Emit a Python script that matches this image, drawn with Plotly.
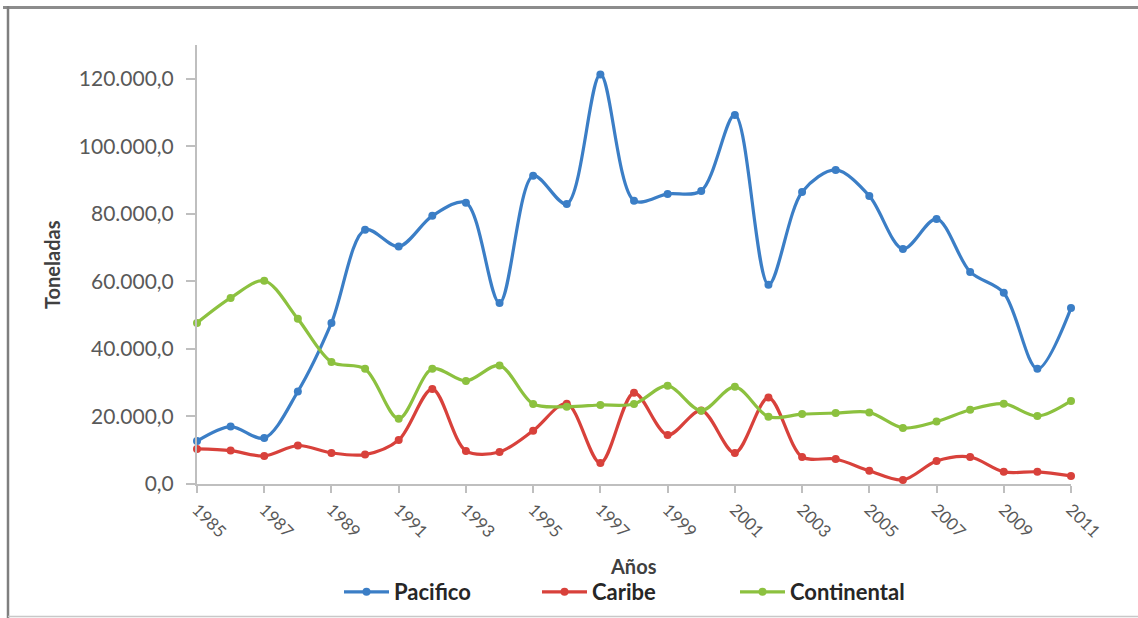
import plotly.graph_objects as go

# Annual landings by region (tonnes)
years = list(range(1985, 2012))

pacifico = [12700, 17000, 13600, 27400, 47700, 75300, 70300, 79400, 83300, 53600,
            91300, 82900, 121300, 83900, 85900, 86800, 109300, 59000, 86500, 93000,
            85300, 69600, 78500, 62800, 56600, 34100, 52100]

caribe = [10400, 9900, 8300, 11400, 9200, 8700, 13000, 28100, 9800, 9500,
          15800, 23800, 6200, 27000, 14500, 21800, 9200, 25600, 8000, 7400,
          3900, 1200, 6800, 8000, 3600, 3600, 2400]

continental = [47700, 55100, 60200, 48900, 36100, 34100, 19300, 34100, 30500, 35100,
               23700, 22900, 23400, 23700, 29100, 21700, 28800, 19900, 20700, 21000,
               21200, 16600, 18500, 22000, 23800, 20100, 24600]

series = [
    ("Pacifico", pacifico, "#3b7ec6"),
    ("Caribe", caribe, "#d8413b"),
    ("Continental", continental, "#8cc13f"),
]

FONT = "Lato, 'Open Sans', sans-serif"
W, H = 1138, 618
ML, MR, MT, MB = 197, 67, 45, 134
PW, PH = W - ML - MR, H - MT - MB


def px_x(px):
    return (px - ML) / PW


def px_y(py):
    return (H - MB - py) / PH


fig = go.Figure()
for name, vals, color in series:
    fig.add_trace(go.Scatter(
        x=years, y=vals, name=name, mode="lines+markers",
        line=dict(color=color, width=3.2, shape="spline", smoothing=0.9),
        marker=dict(color=color, size=8),
        cliponaxis=False,
    ))

axis_gray = "#bfbfbf"
fig.update_xaxes(
    range=[1985, 2011], tick0=1985, dtick=2, tickangle=45,
    showgrid=False, zeroline=False,
    showline=True, linecolor=axis_gray, linewidth=2,
    ticks="outside", ticklen=7, tickcolor=axis_gray, tickwidth=1.5,
    tickfont=dict(family=FONT, size=17, color="#595959"),
)
fig.update_yaxes(
    range=[0, 130000], tickvals=[0, 20000, 40000, 60000, 80000, 100000, 120000],
    tickformat=",.1f", showgrid=False, zeroline=False,
    showline=True, linecolor=axis_gray, linewidth=2,
    ticks="outside", ticklen=9, tickcolor=axis_gray, tickwidth=1.5,
    ticklabelstandoff=8,
    tickfont=dict(family=FONT, size=21, color="#595959"),
)

fig.add_annotation(
    text="<b>Años</b>", xref="paper", yref="paper",
    x=px_x(633), y=px_y(566), showarrow=False,
    xanchor="center", yanchor="middle",
    font=dict(family=FONT, size=20, color="#404040"),
)
fig.add_annotation(
    text="<b>Toneladas</b>", xref="paper", yref="paper",
    x=px_x(52), y=px_y(265), showarrow=False, textangle=-90,
    xanchor="center", yanchor="middle",
    font=dict(family=FONT, size=20, color="#404040"),
)

# Outer frame
fig.add_shape(type="line", xref="paper", yref="paper",
              x0=px_x(3), x1=px_x(1138), y0=px_y(7.5), y1=px_y(7.5),
              line=dict(color="#8c8c8c", width=3))
fig.add_shape(type="line", xref="paper", yref="paper",
              x0=px_x(8), x1=px_x(8), y0=px_y(6), y1=px_y(618),
              line=dict(color="#7f7f7f", width=2.5))
fig.add_shape(type="line", xref="paper", yref="paper",
              x0=px_x(8), x1=px_x(1138), y0=px_y(616.5), y1=px_y(616.5),
              line=dict(color="#c8c8c8", width=1.5))

fig.update_layout(
    width=W, height=H,
    margin=dict(l=ML, r=MR, t=MT, b=MB, autoexpand=False),
    paper_bgcolor="white", plot_bgcolor="white",
    separators=",.",
    showlegend=True,
    legend=dict(
        orientation="h", xanchor="center", yanchor="middle",
        x=px_x(636), y=px_y(592),
        entrywidth=138, itemwidth=45, bgcolor="rgba(0,0,0,0)",
        font=dict(family=FONT, size=22, color="#262626", weight="bold"),
    ),
    font=dict(family=FONT),
)

fig.write_html("out.html")
